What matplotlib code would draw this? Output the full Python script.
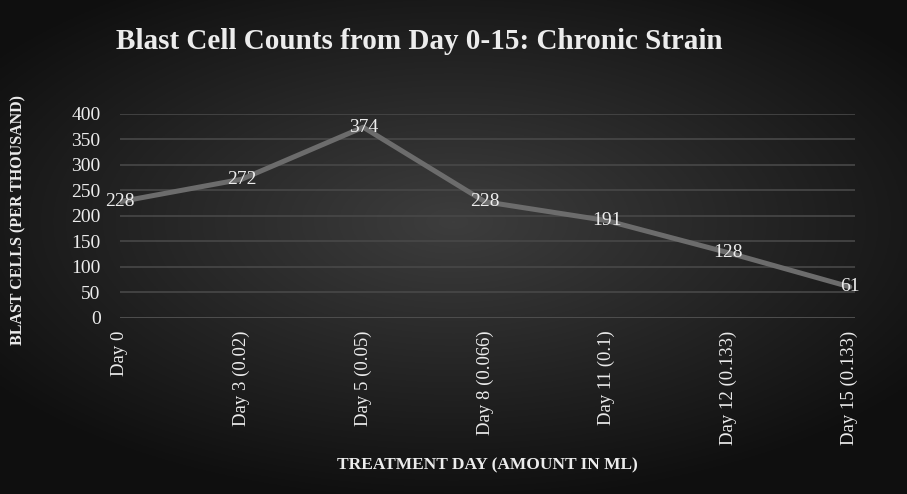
import numpy as np
import matplotlib
matplotlib.use("Agg")
import matplotlib.pyplot as plt

# chart data
days = ["Day 0", "Day 3 (0.02)", "Day 5 (0.05)", "Day 8 (0.066)",
        "Day 11 (0.1)", "Day 12 (0.133)", "Day 15 (0.133)"]
blast_cells = [228, 272, 374, 228, 191, 128, 61]
y_ticks = [0, 50, 100, 150, 200, 250, 300, 350, 400]

plt.rcParams["font.family"] = ["Liberation Serif", "DejaVu Serif"]
text_color = "#ececec"

fig = plt.figure(figsize=(9.07, 4.94), dpi=100)

# dark radial background
bg = fig.add_axes([0, 0, 1, 1], zorder=-10)
yy, xx = np.mgrid[-1:1:300j, -1:1:500j]
r = np.sqrt((xx / 1.05) ** 2 + ((yy + 0.1) / 0.95) ** 2)
shade = 0.24 - 0.15 * np.clip(r, 0, 1.2)
bg.imshow(np.dstack([shade] * 3), aspect="auto", extent=[0, 1, 0, 1])
bg.axis("off")

ax = fig.add_axes([0.1323, 0.3563, 0.810, 0.413])
ax.patch.set_alpha(0)
x = np.arange(len(days))
ax.plot(x, blast_cells, color="#6c6c6c", lw=3.6, solid_capstyle="round", zorder=3)
for xi, v in zip(x, blast_cells):
    ax.text(xi, v, str(v), ha="center", va="center", color=text_color,
            fontsize=14, zorder=4)

ax.set_xlim(0, 6.04)
ax.set_ylim(0, 400)
ax.set_yticks(y_ticks)
ax.set_xticks(x)
ax.set_xticklabels(days, rotation=90, va="top", fontsize=13.5, color=text_color)
ax.tick_params(axis="y", labelsize=14, labelcolor=text_color, length=0, pad=14)
ax.tick_params(axis="x", length=0, pad=9)
ax.grid(axis="y", color="#484848", lw=1.2)
for s in ax.spines.values():
    s.set_visible(False)
ax.axhline(0, color="#4e4e4e", lw=1.4)

ax.set_ylabel("BLAST CELLS (PER THOUSAND)", fontsize=11.5, fontweight="bold",
              color=text_color)
ax.yaxis.set_label_coords(-0.127, 0.48)
fig.text(0.537, 0.058, "TREATMENT DAY (AMOUNT IN ML)", ha="center", va="center",
         fontsize=12.5, fontweight="bold", color=text_color)
fig.text(0.128, 0.915, "Blast Cell Counts from Day 0-15: Chronic Strain",
         ha="left", va="center", fontsize=21, fontweight="bold", color=text_color)

fig.savefig("out.png", dpi=100)
